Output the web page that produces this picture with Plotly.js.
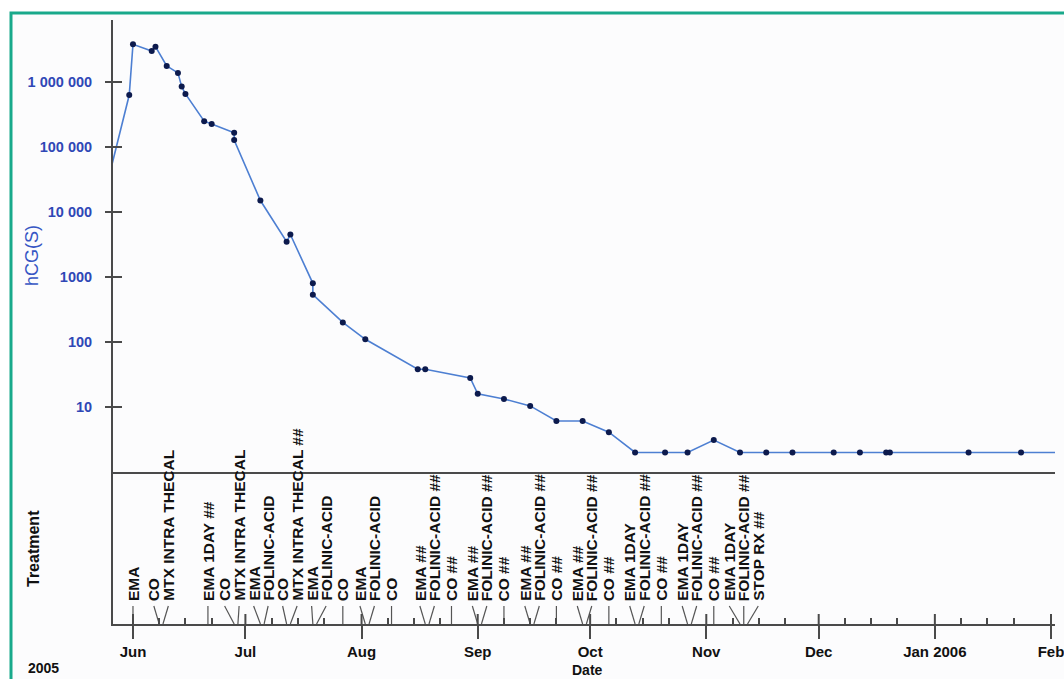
<!DOCTYPE html>
<html><head><meta charset="utf-8">
<script src="https://cdn.plot.ly/plotly-3.0.1.min.js"></script>
<style>html,body{margin:0;padding:0;background:#fff;}#chart{width:1064px;height:679px;}</style>
</head><body><div id="chart"></div>
<script>
// ---- hCG series (first and last points lie just outside the visible date range) ----
const hcgDates = ['2005-05-24','2005-05-31','2005-06-01','2005-06-06','2005-06-07','2005-06-10','2005-06-13','2005-06-14','2005-06-15','2005-06-20','2005-06-22','2005-06-28','2005-06-28','2005-07-05','2005-07-12','2005-07-13','2005-07-19','2005-07-19','2005-07-27','2005-08-02','2005-08-16','2005-08-18','2005-08-30','2005-09-01','2005-09-08','2005-09-15','2005-09-22','2005-09-29','2005-10-06','2005-10-13','2005-10-21','2005-10-27','2005-11-03','2005-11-10','2005-11-17','2005-11-24','2005-12-05','2005-12-12','2005-12-19','2005-12-20','2006-01-10','2006-01-24','2006-02-07'];
const hcgValues = [15000,630000,3800000,3000000,3500000,1770000,1380000,850000,655000,250000,225000,165000,128000,15000,3500,4500,800,535,200,110,38,38,28,16,13.3,10.4,6.1,6.1,4.1,2,2,2,3.1,2,2,2,2,2,2,2,2,2,2];

// ---- treatments ----
const treatmentDates = ['2005-06-01','2005-06-08','2005-06-09','2005-06-21','2005-06-28','2005-06-29','2005-07-05','2005-07-06','2005-07-12','2005-07-13','2005-07-19','2005-07-20','2005-07-27','2005-08-02','2005-08-03','2005-08-09','2005-08-18','2005-08-19','2005-08-25','2005-09-01','2005-09-02','2005-09-08','2005-09-15','2005-09-16','2005-09-22','2005-09-29','2005-09-30','2005-10-06','2005-10-13','2005-10-14','2005-10-20','2005-10-27','2005-10-28','2005-11-03','2005-11-10','2005-11-11','2005-11-12'];
const treatmentLabels = ['EMA','CO','MTX INTRA THECAL','EMA 1DAY ##','CO','MTX INTRA THECAL','EMA','FOLINIC-ACID','CO','MTX INTRA THECAL ##','EMA','FOLINIC-ACID','CO','EMA','FOLINIC-ACID','CO','EMA ##','FOLINIC-ACID ##','CO ##','EMA ##','FOLINIC-ACID ##','CO ##','EMA ##','FOLINIC-ACID ##','CO ##','EMA ##','FOLINIC-ACID ##','CO ##','EMA 1DAY','FOLINIC-ACID ##','CO ##','EMA 1DAY','FOLINIC-ACID ##','CO ##','EMA 1DAY','FOLINIC-ACID ##','STOP RX ##'];

// ---- ticks & texts ----
const yTickValues = [10,100,1000,10000,100000,1000000];
const yTickLabels = ['10','100','1000','10 000','100 000','1 000 000'];
const monthTickDates = ['2005-06-01','2005-07-01','2005-08-01','2005-09-01','2005-10-01','2005-11-01','2005-12-01','2006-01-01','2006-02-01'];
const monthTickLabels = ['Jun','Jul','Aug','Sep','Oct','Nov','Dec','Jan 2006','Feb'];
const minorTickDays = [8,15,22];
const yearLabel = '2005';
const xTitle = 'Date';
const yTitle = 'hCG(S)';
const treatmentTitle = 'Treatment';

// ---- geometry / styles ----
const W = 1064, H = 679, M = {l:113, r:9, t:20, b:55};
const plotW = W - M.l - M.r, plotH = H - M.t - M.b;
const lowerH = 152;
const split = lowerH / plotH;
const decadePx = 65;
const yLogRange = [0, (plotH - lowerH) / decadePx];
const xRange = ['2005-05-26 16:00', '2006-02-02 01:30'];
const FONT = 'Liberation Sans, Arial, Helvetica, sans-serif';
const AXIS = '#4a4a4a', BLUE = '#2f47b6', TEAL = '#19a98b';
const GAP = 14.5;

function ms(s){ const p = s.split(' '); return Date.parse(p[0] + 'T' + (p[1] || '00:00') + ':00Z'); }
function str(m){ return new Date(m).toISOString().slice(0,19).replace('T',' '); }
function xp(px){ return (px - M.l) / plotW; }
function yp(py){ return (H - M.b - py) / plotH; }

const r0 = ms(xRange[0]), r1 = ms(xRange[1]);
const pxPerMs = plotW / (r1 - r0);

// spread labels so they do not overlap
const evPx = treatmentDates.map(d => (ms(d) - r0) * pxPerMs);
const clusters = [];
evPx.forEach(p => {
  clusters.push({n:1, sum:p});
  while (clusters.length > 1) {
    const a = clusters[clusters.length-2], b = clusters[clusters.length-1];
    const aR = a.sum/a.n + (a.n-1)*GAP/2, bL = b.sum/b.n - (b.n-1)*GAP/2;
    if (bL - aR < GAP) { a.n += b.n; a.sum += b.sum; clusters.pop(); } else break;
  }
});
const labelPx = [];
clusters.forEach(c => { const left = c.sum/c.n - (c.n-1)*GAP/2; for (let k=0;k<c.n;k++) labelPx.push(left + k*GAP); });
const labelDates = labelPx.map(p => str(r0 + p / pxPerMs));

const labelBottom = 21 / lowerH, leaderTop = 18 / lowerH;
const leadX = [], leadY = [];
treatmentDates.forEach((d,i) => { leadX.push(labelDates[i], d + ' 00:00:00', null); leadY.push(leaderTop, 0, null); });

// minor ticks
const minorVals = [];
monthTickDates.slice(0,-1).forEach(m => minorTickDays.forEach(dd => minorVals.push(m.slice(0,8) + String(dd).padStart(2,'0'))));

const traces = [
  {x: hcgDates, y: hcgValues, xaxis:'x2', yaxis:'y', type:'scatter', mode:'lines+markers',
   line:{color:'#4d7fd2', width:1.6}, marker:{color:'#0c1a4d', size:6}, hoverinfo:'x+y'},
  {x: leadX, y: leadY, xaxis:'x', yaxis:'y2', type:'scatter', mode:'lines',
   line:{color:'#555', width:1.2}, hoverinfo:'skip'}
];

const shapes = [
  {type:'rect', xref:'paper', yref:'paper', x0:xp(11), x1:xp(W+30), y0:yp(13), y1:yp(H+30),
   line:{color:TEAL, width:3}, fillcolor:'#fcfcfd', layer:'below'}
];
yTickValues.forEach(v => shapes.push({type:'line', xref:'paper', yref:'y', x0:xp(105), x1:xp(122),
  y0:v, y1:v, line:{color:AXIS, width:2}}));
monthTickDates.forEach(d => shapes.push({type:'line', xref:'x', yref:'y2', x0:d, x1:d, y0:0, y1:10/lowerH,
  line:{color:AXIS, width:2}}));

const annotations = treatmentLabels.map((t,i) => ({
  text:t, xref:'x', yref:'y2', x:labelDates[i], y:labelBottom, textangle:-90,
  xanchor:'center', yanchor:'bottom', showarrow:false,
  font:{family:FONT, size:15.5, color:'#111', weight:'bold'}
}));
annotations.push(
  {text:yTitle, xref:'paper', yref:'paper', x:xp(32), y:yp(256), textangle:-90, showarrow:false,
   xanchor:'center', yanchor:'middle', font:{family:FONT, size:18, color:'#3656c4'}},
  {text:treatmentTitle, xref:'paper', yref:'paper', x:xp(33), y:yp(549), textangle:-90, showarrow:false,
   xanchor:'center', yanchor:'middle', font:{family:FONT, size:16, color:'#111', weight:'bold'}},
  {text:yearLabel, xref:'paper', yref:'paper', x:xp(43), y:yp(668), showarrow:false,
   xanchor:'center', yanchor:'middle', font:{family:FONT, size:14, color:'#111', weight:'bold'}},
  {text:xTitle, xref:'paper', yref:'paper', x:xp(587), y:yp(670), showarrow:false,
   xanchor:'center', yanchor:'middle', font:{family:FONT, size:14, color:'#111', weight:'bold'}}
);

const layout = {
  width:W, height:H, margin:M, showlegend:false,
  paper_bgcolor:'#ffffff', plot_bgcolor:'rgba(0,0,0,0)',
  font:{family:FONT},
  xaxis:{type:'date', range:xRange, anchor:'y2', domain:[0,1],
    tickmode:'array', tickvals:monthTickDates, ticktext:monthTickLabels,
    ticks:'outside', ticklen:13, tickwidth:2, tickcolor:AXIS, ticklabeloverflow:'allow',
    showline:true, linecolor:AXIS, linewidth:2, showgrid:false, zeroline:false,
    tickfont:{family:FONT, size:15, color:'#111', weight:'bold'},
    minor:{tickmode:'array', tickvals:minorVals, ticks:'inside', ticklen:6, tickwidth:1.5, tickcolor:AXIS, showgrid:false}},
  xaxis2:{matches:'x', anchor:'y', domain:[0,1], showline:true, linecolor:AXIS, linewidth:2,
    showticklabels:false, ticks:'', showgrid:false, zeroline:false},
  yaxis:{domain:[split,1], type:'log', range:yLogRange, anchor:'x2',
    tickmode:'array', tickvals:yTickValues, ticktext:yTickLabels, ticks:'', ticklabelstandoff:16,
    showline:true, linecolor:AXIS, linewidth:2, showgrid:false, zeroline:false,
    tickfont:{family:FONT, size:14.5, color:BLUE, weight:'bold'}},
  yaxis2:{domain:[0,split], range:[0,1], anchor:'x', showline:true, linecolor:AXIS, linewidth:2,
    ticks:'', showticklabels:false, showgrid:false, zeroline:false},
  shapes:shapes, annotations:annotations
};

Plotly.newPlot('chart', traces, layout, {displayModeBar:false, responsive:false});
</script></body></html>
